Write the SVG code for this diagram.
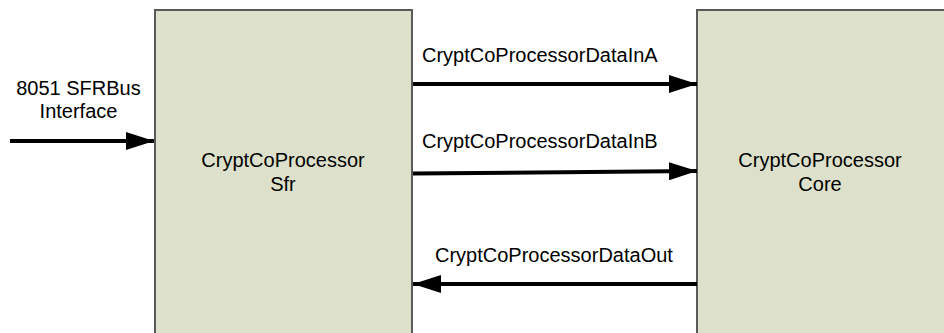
<svg xmlns="http://www.w3.org/2000/svg" width="944" height="333" viewBox="0 0 944 333">
<style>
.box{fill:#dde0cb;stroke:#5a5a5a;stroke-width:2}
.t{font-family:"Liberation Sans",Arial,sans-serif;font-size:20px;fill:#000}
.c{text-anchor:middle}
.w{stroke:#000;stroke-width:4;fill:none}
</style>
<defs>
<marker id="ah" markerUnits="userSpaceOnUse" markerWidth="28" markerHeight="18" refX="28" refY="9" orient="auto">
<path d="M0,0 L28,9 L0,18 Z" fill="#000"/>
</marker>
</defs>
<rect width="944" height="333" fill="#fff"/>
<g id="sfr">
<rect class="box" x="155" y="10" width="257" height="340"/>
<text class="t c" x="283" y="167">CryptCoProcessor</text>
<text class="t c" x="283" y="190.5">Sfr</text>
</g>
<g id="core">
<rect class="box" x="697" y="10" width="260" height="340"/>
<text class="t c" x="820" y="167">CryptCoProcessor</text>
<text class="t c" x="820" y="190.5">Core</text>
</g>
<g id="connectors">
<line class="w" x1="10" y1="141" x2="154" y2="141" marker-end="url(#ah)"/>
<line class="w" x1="413" y1="84" x2="697" y2="84" marker-end="url(#ah)"/>
<line class="w" x1="413" y1="173.5" x2="697" y2="171" marker-end="url(#ah)"/>
<line class="w" x1="697" y1="284" x2="413" y2="284" marker-end="url(#ah)"/>
</g>
<g id="labels">
<text class="t c" x="78.5" y="95">8051 SFRBus</text>
<text class="t c" x="78.5" y="117.5">Interface</text>
<text class="t" x="422" y="61.5">CryptCoProcessorDataInA</text>
<text class="t" x="422" y="148.3">CryptCoProcessorDataInB</text>
<text class="t" x="435" y="262.3">CryptCoProcessorDataOut</text>
</g>
</svg>
